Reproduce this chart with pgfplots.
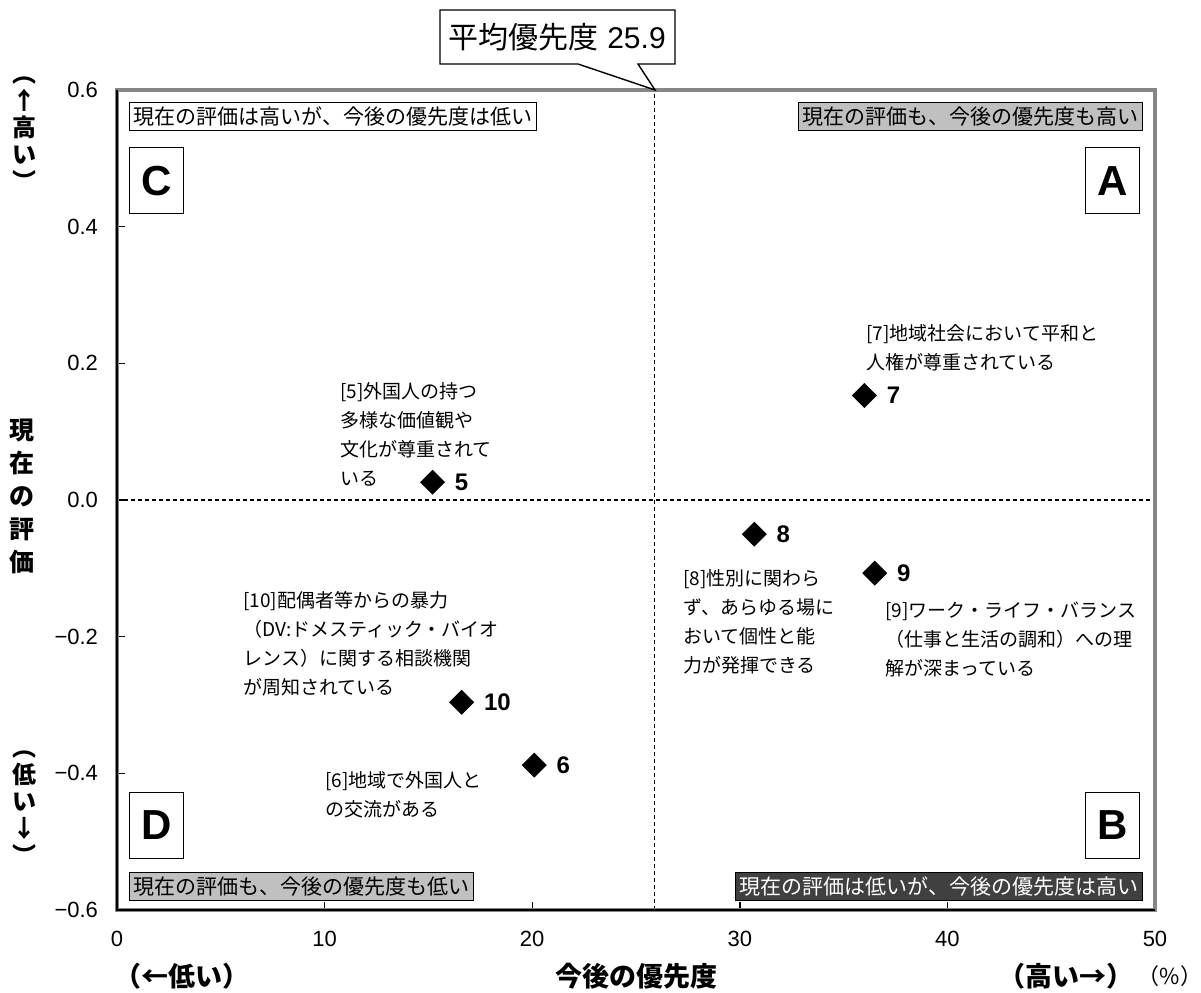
\documentclass[border=0pt]{standalone}
\usepackage{pgfplots}
\pgfplotsset{compat=1.18}
\usepackage{pgfplotstable}
\usepackage{fontspec}
\setmainfont{Liberation Sans}
\newfontfamily\jp{Noto Sans CJK JP}

\definecolor{framegray}{RGB}{134,134,134}
\definecolor{lightq}{RGB}{192,192,192}
\definecolor{darkq}{RGB}{64,64,64}

% priority (x), evaluation (y), item no.
\pgfplotstableread{
x     y      lab
15.2  0.026  5
20.1  -0.388 6
36.0  0.153  7
30.7  -0.050 8
36.5  -0.107 9
16.6  -0.296 10
}\points

\begin{document}
\begin{tikzpicture}
\useasboundingbox (0pt,0pt) rectangle (600.5pt,496pt);
\begin{axis}[
    at={(58.5pt,41pt)}, anchor=south west,
    scale only axis, width=519pt, height=410pt,
    xmin=0, xmax=50, ymin=-0.6, ymax=0.6,
    xtick={0,10,20,30,40,50},
    xticklabels={0,10,20,30,40,50},
    ytick={-0.6,-0.4,-0.2,0,0.2,0.4,0.6},
    yticklabels={−0.6,−0.4,−0.2,0.0,0.2,0.4,0.6},
    xtick pos=bottom, ytick pos=left,
    tick align=inside, major tick length=4pt,
    tick style={black, line width=0.7pt},
    axis line style={draw=none},
    ticklabel style={font=\fontsize{11}{13}\selectfont},
    xticklabel style={yshift=-7pt},
    yticklabel style={xshift=-6pt},
    clip=false,
]
% quadrant dividers
\draw[black, line width=0.6pt, dash pattern=on 2pt off 1.5pt] (axis cs:25.9,-0.6) -- (axis cs:25.9,0.6);
\draw[black, line width=0.6pt, dash pattern=on 2pt off 1.5pt] (axis cs:0,0) -- (axis cs:50,0);
% frame
\draw[framegray, line width=2pt] (rel axis cs:0,0) rectangle (rel axis cs:1,1);
\draw[black, line width=1pt] (rel axis cs:0,1) -- (rel axis cs:0,0) -- (rel axis cs:1,0);

\addplot[only marks, mark=square*, mark size=4.2pt,
    mark options={rotate=45, fill=black, draw=black},
    point meta=explicit symbolic, nodes near coords,
    every node near coord/.style={anchor=west, xshift=11pt, inner sep=0pt,
        font=\bfseries\fontsize{12}{14}\selectfont}]
    table[x=x, y=y, meta=lab] {\points};

% quadrant captions
\node[draw=black, fill=white, inner sep=2pt, anchor=north west, font=\jp\fontsize{10.5}{12}\selectfont]
    at (axis cs:0.6,0.582) {現在の評価は高いが、今後の優先度は低い};
\node[draw=black, fill=lightq, inner sep=2pt, anchor=north east, font=\jp\fontsize{10.5}{12}\selectfont]
    at (axis cs:49.4,0.582) {現在の評価も、今後の優先度も高い};
\node[draw=black, fill=lightq, inner sep=2pt, anchor=south west, font=\jp\fontsize{10.5}{12}\selectfont]
    at (axis cs:0.6,-0.586) {現在の評価も、今後の優先度も低い};
\node[draw=black, fill=darkq, text=white, inner sep=2pt, anchor=south east, font=\jp\fontsize{10.5}{12}\selectfont]
    at (axis cs:49.4,-0.586) {現在の評価は低いが、今後の優先度は高い};

% quadrant letters
\tikzset{qbox/.style={draw=black, fill=white, minimum width=27pt, minimum height=33pt, inner sep=0pt, font=\bfseries\fontsize{21}{23}\selectfont}}
\node[qbox] at (axis cs:1.9,0.467) {C};
\node[qbox] at (axis cs:47.95,0.467) {A};
\node[qbox] at (axis cs:1.9,-0.476) {D};
\node[qbox] at (axis cs:47.95,-0.476) {B};

% item descriptions
\tikzset{note/.style={anchor=north west, align=left, inner sep=0pt, font=\jp\fontsize{9.5}{14.5}\selectfont}}
\node[note] at (axis cs:10.74,0.173) {[5]外国人の持つ\\多様な価値観や\\文化が尊重されて\\いる};
\node[note] at (axis cs:36.08,0.258) {[7]地域社会において平和と\\人権が尊重されている};
\node[note] at (axis cs:27.26,-0.101) {[8]性別に関わら\\ず、あらゆる場に\\おいて個性と能\\力が発揮できる};
\node[note] at (axis cs:37.0,-0.149) {[9]ワーク・ライフ・バランス\\（仕事と生活の調和）への理\\解が深まっている};
\node[note] at (axis cs:6.07,-0.133) {[10]配偶者等からの暴力\\（DV:ドメスティック・バイオ\\レンス）に関する相談機関\\が周知されている};
\node[note] at (axis cs:10.02,-0.397) {[6]地域で外国人と\\の交流がある};
\end{axis}

% texts around the axis, in pixel coordinates of the reference
\begin{scope}[x=0.5pt, y=-0.5pt, shift={(0pt,496pt)}]
\draw[black, line width=0.7pt, fill=white]
    (440,10) -- (675,10) -- (675,64) -- (638,64) -- (655,90) -- (578,64) -- (440,64) -- cycle;
\node[font=\jp\fontsize{15}{17}\selectfont] at (557,37) {平均優先度\hspace{0.3em}{\rmfamily 25.9}};

\node[font=\jp\bfseries\fontsize{12.5}{16.5}\selectfont, align=center] at (22,496)
    {現\\在\\の\\評\\価};
\node[font=\jp\bfseries\fontsize{12}{13.5}\selectfont, align=center] at (24,134)
    {︵\\↑\\高\\い\\︶};
\node[font=\jp\bfseries\fontsize{12}{13.5}\selectfont, align=center] at (24,808)
    {︵\\低\\い\\↓\\︶};

\node[font=\jp\bfseries\fontsize{13.5}{15}\selectfont] at (636,976) {今後の優先度};
\node[font=\jp\bfseries\fontsize{13.5}{15}\selectfont] at (182,976) {（←低い）};
\node[font=\jp\bfseries\fontsize{13.5}{15}\selectfont] at (1066,976) {（高い→）};
\node[font=\jp\fontsize{11}{13}\selectfont] at (1170,976) {（\%）};
\end{scope}
\end{tikzpicture}
\end{document}
